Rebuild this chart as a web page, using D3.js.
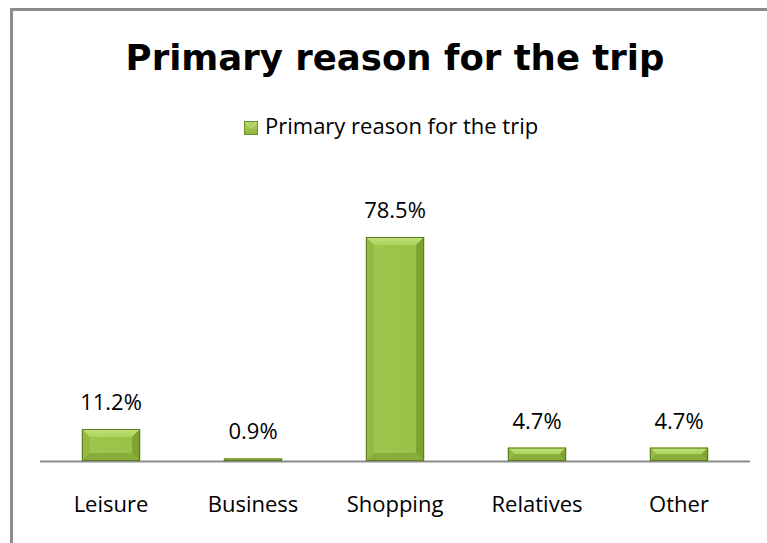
<!DOCTYPE html>
<html>
<head>
<meta charset="utf-8">
<script src="https://cdn.jsdelivr.net/npm/d3@7/dist/d3.min.js"></script>
<style>
  html, body { margin: 0; padding: 0; background: #fff; }
  svg { display: block; }
</style>
</head>
<body>
<svg id="chart" width="767" height="543"></svg>
<script>
// Survey results: primary reason for the trip (%)
const categories = ["Leisure", "Business", "Shopping", "Relatives", "Other"];
const values = [11.2, 0.9, 78.5, 4.7, 4.7];
const seriesName = "Primary reason for the trip";
const chartTitle = "Primary reason for the trip";

const W = 767, H = 543;
const svg = d3.select("#chart");

// Outer chart frame
svg.append("path")
  .attr("d", `M11.5,${H} L11.5,9.5 L${W},9.5`)
  .attr("fill", "none")
  .attr("stroke", "#8c8c8c")
  .attr("stroke-width", 3);

const plot = { left: 40, right: 750, baseline: 461 };

const x = d3.scaleBand()
  .domain(categories)
  .range([plot.left, plot.right])
  .paddingInner(0.59)
  .paddingOuter(0.295);

// 2.853 px per percent point
const y = d3.scaleLinear()
  .domain([0, 78.5])
  .range([plot.baseline, 237]);

const defs = svg.append("defs");
const grad = defs.append("linearGradient")
  .attr("id", "barFill").attr("x1", 0).attr("x2", 1).attr("y1", 0).attr("y2", 0);
grad.append("stop").attr("offset", 0).attr("stop-color", "#8fb63f");
grad.append("stop").attr("offset", 0.15).attr("stop-color", "#9ec64d");
grad.append("stop").attr("offset", 0.85).attr("stop-color", "#9ac249");
grad.append("stop").attr("offset", 1).attr("stop-color", "#86ab38");

const topGrad = defs.append("linearGradient")
  .attr("id", "bevelTop").attr("x1", 0).attr("x2", 0).attr("y1", 0).attr("y2", 1);
topGrad.append("stop").attr("offset", 0).attr("stop-color", "#c2e37a");
topGrad.append("stop").attr("offset", 1).attr("stop-color", "#abd25c");

const legGrad = defs.append("linearGradient")
  .attr("id", "legFill").attr("x1", 0).attr("x2", 0).attr("y1", 0).attr("y2", 1);
legGrad.append("stop").attr("offset", 0).attr("stop-color", "#b5d86a");
legGrad.append("stop").attr("offset", 1).attr("stop-color", "#8cb23c");

// Axis baseline
svg.append("line")
  .attr("x1", plot.left).attr("x2", plot.right)
  .attr("y1", plot.baseline + 0.5).attr("y2", plot.baseline + 0.5)
  .attr("stroke", "#8c8c8c").attr("stroke-width", 2);

// Bars with a bevelled face
const bars = svg.append("g").selectAll("g.bar")
  .data(categories.map((c, i) => ({ c, v: values[i] })))
  .join("g").attr("class", "bar");

bars.each(function(d) {
  const g = d3.select(this);
  const x0 = x(d.c), bw = x.bandwidth();
  const y0 = y(d.v), h = plot.baseline - y0;
  const b = Math.min(8, h / 2, bw / 2);
  g.append("rect")
    .attr("x", x0).attr("y", y0).attr("width", bw).attr("height", h)
    .attr("fill", "url(#barFill)");
  // top bevel
  g.append("path")
    .attr("d", `M${x0},${y0} L${x0 + bw},${y0} L${x0 + bw - b},${y0 + b} L${x0 + b},${y0 + b} Z`)
    .attr("fill", "url(#bevelTop)");
  // left bevel
  g.append("path")
    .attr("d", `M${x0},${y0} L${x0 + b},${y0 + b} L${x0 + b},${y0 + h - b} L${x0},${y0 + h} Z`)
    .attr("fill", "#93bb44");
  // right bevel
  g.append("path")
    .attr("d", `M${x0 + bw},${y0} L${x0 + bw - b},${y0 + b} L${x0 + bw - b},${y0 + h - b} L${x0 + bw},${y0 + h} Z`)
    .attr("fill", "#7fa332");
  // bottom bevel
  g.append("path")
    .attr("d", `M${x0},${y0 + h} L${x0 + b},${y0 + h - b} L${x0 + bw - b},${y0 + h - b} L${x0 + bw},${y0 + h} Z`)
    .attr("fill", "#88ad3a");
  g.append("rect")
    .attr("x", x0 + 0.5).attr("y", y0 + 0.5).attr("width", bw - 1).attr("height", Math.max(0, h - 1))
    .attr("fill", "none").attr("stroke", "#5c7a22").attr("stroke-width", 1);
});

// Value labels
svg.append("g").selectAll("text")
  .data(categories.map((c, i) => ({ c, v: values[i] })))
  .join("text")
  .attr("x", d => x(d.c) + x.bandwidth() / 2)
  .attr("y", d => y(d.v) - 19)
  .attr("text-anchor", "middle")
  .attr("font-family", "'Open Sans', sans-serif")
  .attr("font-size", 22)
  .attr("fill", "#000")
  .text(d => d.v.toFixed(1) + "%");

// Category axis labels
const xAxis = d3.axisBottom(x).tickSize(0).tickPadding(35);
const ax = svg.append("g").attr("transform", `translate(0,${plot.baseline})`).call(xAxis);
ax.select(".domain").remove();
ax.selectAll("text")
  .attr("font-family", "'Open Sans', sans-serif")
  .attr("font-size", 22)
  .attr("fill", "#000");

// Title
svg.append("text")
  .attr("x", 395).attr("y", 70)
  .attr("text-anchor", "middle")
  .attr("font-family", "'DejaVu Sans', sans-serif")
  .attr("font-weight", "bold")
  .attr("font-size", 35.5)
  .attr("fill", "#000")
  .text(chartTitle);

// Legend
const leg = svg.append("g").attr("transform", "translate(244,121)");
leg.append("rect").attr("x", 0.5).attr("y", 0.5).attr("width", 13).attr("height", 13)
  .attr("fill", "url(#legFill)").attr("stroke", "#6b8c2a");
leg.append("path").attr("d", "M1,1 L7,7 L13,1").attr("fill", "none").attr("stroke", "#c8e68a").attr("stroke-width", 1);
leg.append("text")
  .attr("x", 21).attr("y", 13)
  .attr("font-family", "'Open Sans', sans-serif")
  .attr("font-size", 22)
  .attr("fill", "#000")
  .text(seriesName);
</script>
</body>
</html>
